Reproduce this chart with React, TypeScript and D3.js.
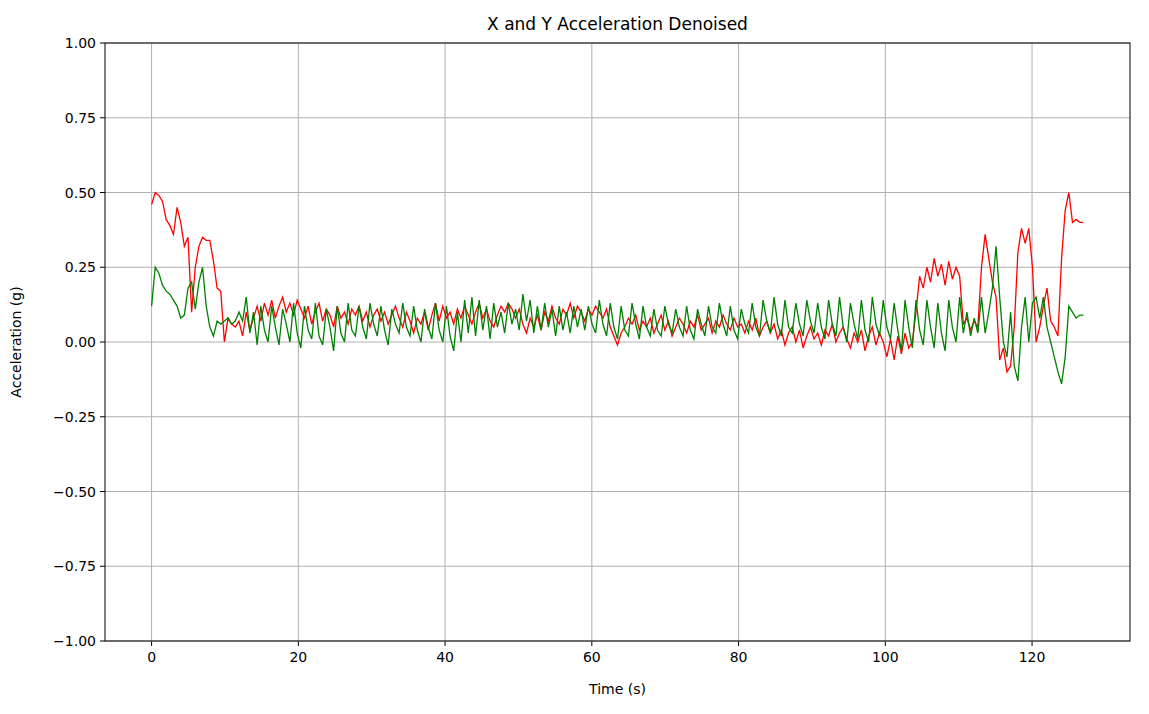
import React from "react";
import * as d3 from "d3";

const xAccel = [0.46,0.50,0.49,0.47,0.41,0.39,0.36,0.45,0.40,0.32,0.35,0.10,0.25,0.32,0.35,0.34,0.34,0.27,0.18,0.17,0.00,0.08,0.06,0.05,0.07,0.02,0.10,0.04,
0.08,0.12,0.07,0.13,0.09,0.14,0.08,0.12,0.15,0.10,0.13,0.09,0.14,0.11,0.08,0.12,0.06,0.10,0.13,0.07,0.11,0.09,0.05,0.12,0.08,0.10,0.06,0.11,0.09,0.12,0.07,0.10,0.05,0.09,0.11,0.07,0.10,0.06,0.09,0.12,0.08,0.05,0.10,0.07,
0.03,0.08,0.06,0.10,0.04,0.09,0.13,0.07,0.12,0.08,0.10,0.06,0.11,0.08,0.12,0.09,0.06,0.10,0.13,0.08,0.11,0.07,0.05,0.09,0.12,0.10,0.13,0.11,0.08,0.11,0.06,0.03,0.08,0.05,0.09,0.04,0.10,0.07,0.12,0.08,0.06,0.11,0.09,0.13,0.08,0.12,0.10,0.07,0.11,0.09,
0.12,0.10,0.08,0.11,0.05,0.02,-0.01,0.03,0.05,0.08,0.06,0.09,0.04,0.07,0.05,0.08,0.03,0.06,0.09,0.04,0.07,0.02,0.05,0.08,0.06,0.03,0.07,0.05,0.09,0.04,0.06,0.08,0.03,0.07,0.05,0.09,0.06,0.04,0.08,0.05,
0.06,0.03,0.07,0.04,0.08,0.02,0.05,0.07,0.03,0.06,0.01,0.04,-0.01,0.03,0.05,0.00,0.04,-0.02,0.02,0.05,0.01,0.03,-0.01,0.04,0.02,0.06,0.00,0.03,0.05,0.01,-0.02,0.03,0.00,0.04,-0.03,0.02,0.05,-0.01,0.03,0.00,
-0.05,0.01,-0.06,0.02,-0.04,0.03,-0.02,0.00,0.10,0.22,0.18,0.25,0.20,0.28,0.22,0.26,0.19,0.27,0.21,0.25,0.22,0.06,0.08,0.04,0.07,0.05,
0.25,0.36,0.28,0.20,0.15,-0.06,-0.02,-0.10,-0.08,0.05,0.30,0.38,0.33,0.38,0.25,0.00,0.05,0.12,0.18,0.07,0.05,0.02,0.28,0.44,0.50,0.40,0.41,0.40,0.40];

const yAccel = [0.12,0.25,0.23,0.19,0.17,0.16,0.14,0.12,0.08,0.09,0.18,0.20,0.11,0.20,0.25,0.12,0.05,0.02,0.07,0.06,0.07,0.08,0.06,0.07,0.10,0.07,0.15,0.03,
0.10,-0.01,0.12,0.04,0.00,0.12,0.05,-0.01,0.11,0.06,0.00,0.13,0.03,-0.02,0.12,0.04,0.01,0.13,0.02,-0.01,0.11,0.05,-0.03,0.12,0.03,0.00,0.13,0.04,0.02,0.12,0.05,0.01,0.13,0.06,0.02,0.12,0.04,-0.01,0.11,0.06,0.03,0.13,0.05,0.02,0.12,0.04,0.00,0.11,0.05,0.01,0.13,0.04,0.00,0.12,0.02,-0.03,0.10,0.00,0.14,0.03,0.15,0.02,0.14,0.04,0.12,0.01,0.13,0.05,0.10,0.03,0.13,0.06,0.11,0.04,0.16,0.07,0.14,0.03,0.12,0.04,0.13,0.05,0.11,0.02,0.12,0.04,0.10,0.03,0.12,0.05,0.11,0.04,0.12,0.06,
0.03,0.14,0.06,0.02,0.13,0.05,0.01,0.12,0.04,0.02,0.13,0.06,0.01,0.12,0.05,0.02,0.11,0.04,0.02,0.12,0.06,0.03,0.11,0.05,0.02,0.12,0.04,0.01,0.11,0.06,0.02,0.12,0.05,0.03,0.13,0.06,0.02,0.12,0.04,0.01,0.11,0.06,0.03,0.13,0.05,0.02,0.14,0.07,0.03,0.15,0.06,0.02,0.14,0.05,0.03,0.13,0.06,0.02,0.14,0.07,0.03,0.13,0.05,0.01,0.14,0.06,0.02,0.15,0.05,0.00,0.13,0.06,0.01,0.14,0.04,0.00,0.15,0.06,0.02,0.14,
0.05,0.01,0.13,0.04,-0.03,0.14,0.05,-0.02,0.14,0.04,-0.01,0.14,0.05,-0.02,0.13,0.03,-0.03,0.14,0.05,0.00,0.15,0.03,0.10,0.02,0.08,0.03,
0.15,0.03,0.10,0.18,0.32,0.15,0.00,-0.05,0.10,-0.08,-0.13,0.05,0.15,0.00,0.13,0.15,0.08,0.15,0.05,0.00,-0.05,-0.10,-0.14,-0.05,0.12,0.10,0.08,0.09,0.09];

const tEnd = 127;
const xTicks = [0, 20, 40, 60, 80, 100, 120];
const yTicks = [-1, -0.75, -0.5, -0.25, 0, 0.25, 0.5, 0.75, 1];

const L = 105, R = 1130, T = 43, B = 641;

export default function App() {
  const x = d3.scaleLinear().domain([-6.35, 133.35]).range([L, R]);
  const y = d3.scaleLinear().domain([-1, 1]).range([B, T]);
  const mk = (arr: number[]) =>
    d3.line<number>().x((_, i) => x((i * tEnd) / (arr.length - 1))).y((v) => y(v))(arr) || "";
  const font = "DejaVu Sans, sans-serif";
  const fmt = (v: number) => v.toFixed(2).replace("-", "\u2212");
  return (
    <svg width={1149} height={714} style={{ position: "absolute", left: 0, top: 0, background: "#fff" }} fontFamily={font}>
      {xTicks.map((t) => (
        <g key={"x" + t}>
          <line x1={x(t)} x2={x(t)} y1={T} y2={B} stroke="#b0b0b0" strokeWidth={1} />
          <line x1={x(t)} x2={x(t)} y1={B} y2={B + 5} stroke="#000" />
          <text x={x(t)} y={B + 21} textAnchor="middle" fontSize={14}>{t}</text>
        </g>
      ))}
      {yTicks.map((t) => (
        <g key={"y" + t}>
          <line x1={L} x2={R} y1={y(t)} y2={y(t)} stroke="#b0b0b0" strokeWidth={1} />
          <line x1={L - 5} x2={L} y1={y(t)} y2={y(t)} stroke="#000" />
          <text x={L - 9} y={y(t) + 5} textAnchor="end" fontSize={14}>{fmt(t)}</text>
        </g>
      ))}
      <path d={mk(xAccel)} fill="none" stroke="red" strokeWidth={1.3} />
      <path d={mk(yAccel)} fill="none" stroke="green" strokeWidth={1.3} />
      <rect x={L} y={T} width={R - L} height={B - T} fill="none" stroke="#000" strokeWidth={1} />
      <text x={(L + R) / 2} y={30} textAnchor="middle" fontSize={17}>X and Y Acceleration Denoised</text>
      <text x={(L + R) / 2} y={694} textAnchor="middle" fontSize={14}>Time (s)</text>
      <text transform={`translate(21,${(T + B) / 2}) rotate(-90)`} textAnchor="middle" fontSize={14}>Acceleration (g)</text>
    </svg>
  );
}
